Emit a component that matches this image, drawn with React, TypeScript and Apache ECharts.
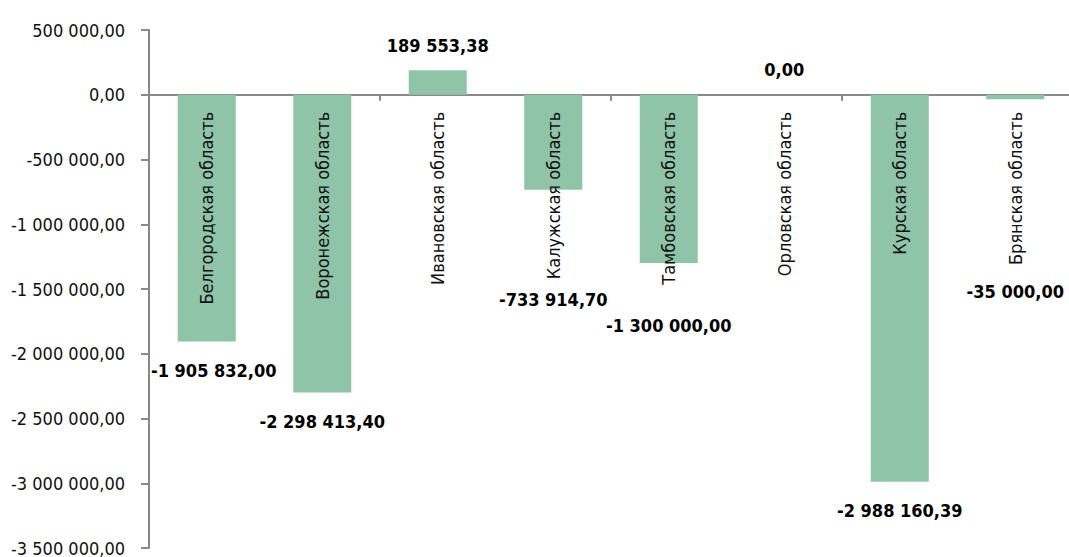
import React, { useEffect, useRef } from "react";
import * as echarts from "echarts";

const categories = [
  "Белгородская область",
  "Воронежская область",
  "Ивановская область",
  "Калужская область",
  "Тамбовская область",
  "Орловская область",
  "Курская область",
  "Брянская область",
];

const values = [
  -1905832.0, -2298413.4, 189553.38, -733914.7, -1300000.0, 0.0, -2988160.39, -35000.0,
];

const yMin = -3500000;
const yMax = 500000;
const yStep = 500000;

// label nudges (layout only): [dx, dy] in px
const labelShift: [number, number][] = [
  [7, 0],
  [0, 0],
  [0, 0],
  [0, 81],
  [0, 33],
  [0, 0],
  [0, 0],
  [0, 163],
];

const FONT = "'DejaVu Sans Condensed', 'Liberation Sans Narrow', sans-serif";

function fmt(v: number): string {
  const neg = v < 0;
  const s = Math.abs(v).toFixed(2);
  const [int, dec] = s.split(".");
  const grouped = int.replace(/\B(?=(\d{3})+(?!\d))/g, " ");
  return (neg ? "-" : "") + grouped + "," + dec;
}

export default function App() {
  const ref = useRef<HTMLDivElement>(null);
  useEffect(() => {
    if (!ref.current) return;
    const chart = echarts.init(ref.current, undefined, { renderer: "svg" });
    chart.setOption({
      animation: false,
      backgroundColor: "#ffffff",
      grid: {
        left: 149,
        top: 30,
        width: 924,
        height: 518,
        containLabel: false,
        outerBoundsMode: "none",
      },
      xAxis: {
        type: "category",
        data: categories,
        axisLine: { onZero: true, lineStyle: { color: "#898989", width: 2 } },
        axisTick: { show: true, length: 6, lineStyle: { color: "#898989", width: 2 } },
        axisLabel: { show: false },
        splitLine: { show: false },
      },
      yAxis: {
        type: "value",
        min: yMin,
        max: yMax,
        interval: yStep,
        axisLine: { show: true, lineStyle: { color: "#898989", width: 2 } },
        axisTick: { show: true, length: 8, lineStyle: { color: "#898989", width: 2 } },
        axisLabel: {
          margin: 24,
          color: "#111111",
          fontFamily: FONT,
          fontSize: 18,
          formatter: (v: number) => fmt(v),
        },
        splitLine: { show: false },
      },
      series: [
        {
          type: "bar",
          barWidth: 58,
          itemStyle: { color: "#8fc4a8" },
          z: 2,
          data: values.map((v, i) => ({
            value: v,
            label: {
              show: true,
              position: v >= 0 ? "top" : "bottom",
              distance: v >= 0 ? 16 : 20,
              offset: labelShift[i],
              formatter: fmt(v),
              color: "#000000",
              fontFamily: FONT,
              fontWeight: "bold",
              fontSize: 18,
            },
          })),
        },
        {
          // category names drawn just below the zero line, rotated
          type: "bar",
          barWidth: 58,
          barGap: "-100%",
          z: 3,
          silent: true,
          itemStyle: { color: "rgba(0,0,0,0)" },
          data: categories.map(() => 0),
          label: {
            show: true,
            position: "bottom",
            distance: 17,
            rotate: 90,
            align: "right",
            verticalAlign: "middle",
            formatter: (p: any) => p.name,
            color: "#111111",
            fontFamily: FONT,
            fontSize: 18,
          },
        },
      ],
    });
    return () => chart.dispose();
  }, []);
  return (
    <div
      ref={ref}
      style={{ position: "absolute", left: 0, top: 0, width: 1069, height: 557 }}
    />
  );
}
